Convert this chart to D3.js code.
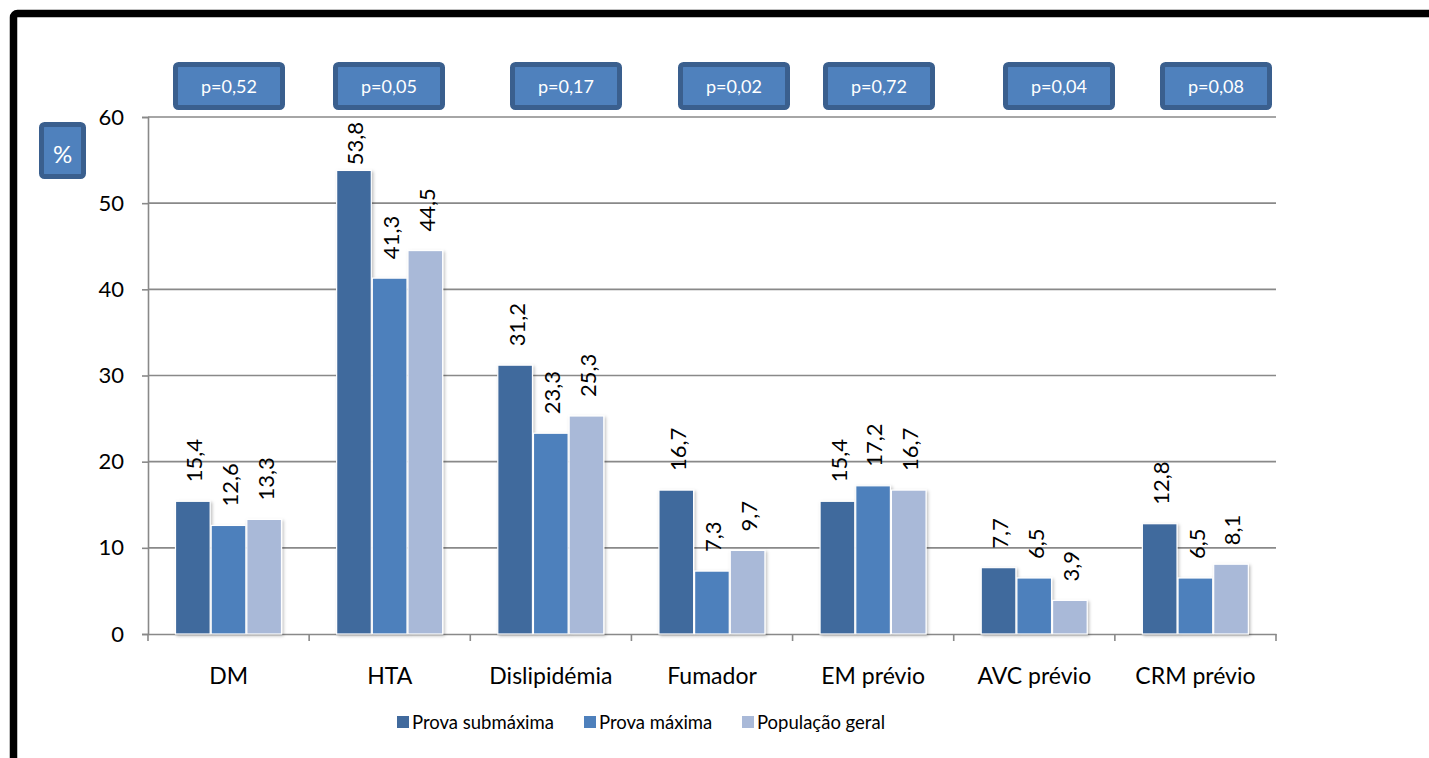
<!DOCTYPE html>
<html>
<head>
<meta charset="utf-8">
<script src="https://cdn.jsdelivr.net/npm/d3@7"></script>
<style>
  html, body { margin: 0; padding: 0; background: #fff; }
  svg { display: block; font-family: Lato, "Open Sans", sans-serif; }
</style>
</head>
<body>
<svg id="chart" width="1429" height="758"></svg>
<script>
// Risk factor categories
const categories = ["DM", "HTA", "Dislipidémia", "Fumador", "EM prévio", "AVC prévio", "CRM prévio"];
// Series
const seriesNames = ["Prova submáxima", "Prova máxima", "População geral"];
const provaSubmaxima = [15.4, 53.8, 31.2, 16.7, 15.4, 7.7, 12.8];
const provaMaxima = [12.6, 41.3, 23.3, 7.3, 17.2, 6.5, 6.5];
const populacaoGeral = [13.3, 44.5, 25.3, 9.7, 16.7, 3.9, 8.1];
// p-values per category
const pValues = ["p=0,52", "p=0,05", "p=0,17", "p=0,02", "p=0,72", "p=0,04", "p=0,08"];
// y-axis ticks
const yTicks = [0, 10, 20, 30, 40, 50, 60];

const colors = ["#416a9d", "#4e80bc", "#a9b9d8"];
const seriesValues = [provaSubmaxima, provaMaxima, populacaoGeral];
const FONT = "Lato, 'Open Sans', sans-serif";

const svg = d3.select("#chart");

// drop shadow for bars
const defs = svg.append("defs");
const f = defs.append("filter").attr("id", "shadow").attr("x", "-20%").attr("y", "-20%").attr("width", "140%").attr("height", "140%");
f.append("feDropShadow").attr("dx", 1.5).attr("dy", 1.5).attr("stdDeviation", 1.5).attr("flood-color", "#000").attr("flood-opacity", 0.25);

// outer frame
svg.append("rect").attr("x", 13.5).attr("y", 13.5).attr("width", 1440).attr("height", 800)
  .attr("rx", 4).attr("fill", "none").attr("stroke", "#000").attr("stroke-width", 7.5);

const plotLeft = 148, plotRight = 1276, plotTop = 117, plotBottom = 634;

const x0 = d3.scaleBand().domain(categories).range([plotLeft, plotRight]).padding(0);
const x1 = d3.scaleBand().domain(d3.range(3)).range([27, 134]).padding(0);
const y = d3.scaleLinear().domain([0, 60]).range([plotBottom, plotTop]);

// gridlines
svg.append("g").selectAll("line").data(yTicks.filter(d => d > 0)).join("line")
  .attr("x1", plotLeft).attr("x2", plotRight)
  .attr("y1", d => y(d)).attr("y2", d => y(d))
  .attr("stroke", "#898989").attr("stroke-width", 1.6);

// y axis
const yAxis = svg.append("g").attr("transform", `translate(${plotLeft},0)`)
  .call(d3.axisLeft(y).tickValues(yTicks).tickSize(6).tickPadding(18).tickFormat(d3.format("d")));
yAxis.select(".domain").attr("stroke", "#898989").attr("stroke-width", 1.6);
yAxis.selectAll(".tick line").attr("stroke", "#898989").attr("stroke-width", 1.6);
yAxis.selectAll(".tick text").attr("font-size", 22).attr("fill", "#000").attr("font-family", FONT);

// x axis
const xAxis = svg.append("g").attr("transform", `translate(0,${plotBottom})`)
  .call(d3.axisBottom(x0).tickSize(0).tickPadding(34));
xAxis.select(".domain").attr("stroke", "#898989").attr("stroke-width", 1.6);
xAxis.selectAll(".tick text").attr("font-size", 23).attr("fill", "#000").attr("font-family", FONT);
// category boundary ticks
svg.append("g").selectAll("line").data(categories.map(c => x0(c)).concat([plotRight])).join("line")
  .attr("x1", d => d).attr("x2", d => d).attr("y1", plotBottom).attr("y2", plotBottom + 7)
  .attr("stroke", "#898989").attr("stroke-width", 1.6);

// bars and rotated value labels
const groups = svg.append("g").selectAll("g").data(categories).join("g")
  .attr("transform", d => `translate(${x0(d)},0)`);

const labelTopLimit = 122;
groups.each(function(cat, ci) {
  const g = d3.select(this);
  seriesValues.forEach((vals, si) => {
    const v = vals[ci];
    g.append("rect")
      .attr("x", x1(si) + 0.5).attr("width", x1.bandwidth() - 1)
      .attr("y", y(v)).attr("height", y(0) - y(v))
      .attr("fill", colors[si]).attr("stroke", "#fff").attr("stroke-width", 1.2)
      .attr("filter", "url(#shadow)");
    const cx = x1(si) + x1.bandwidth() / 2 + 1.5;
    const t = g.append("text")
      .attr("font-size", 22).attr("fill", "#000").attr("dy", "0.36em")
      .text(d3.format(".1f")(v).replace(".", ","));
    const len = t.node().getComputedTextLength();
    // keep labels inside the plot area at the top
    const start = Math.max(y(v) - 19, labelTopLimit + len);
    t.attr("transform", `translate(${cx},${start}) rotate(-90)`);
  });
});

// p-value boxes
const pBoxX = [173, 333, 510, 678, 823, 1003, 1160];
svg.append("g").selectAll("g").data(pValues).join("g")
  .attr("transform", (d, i) => `translate(${pBoxX[i]},62)`)
  .each(function(d) {
    const g = d3.select(this);
    g.append("rect").attr("x", 2.5).attr("y", 2.5).attr("width", 107).attr("height", 43).attr("rx", 3)
      .attr("fill", "#4f81bd").attr("stroke", "#3a5f8e").attr("stroke-width", 5);
    g.append("text").attr("x", 56).attr("y", 31).attr("text-anchor", "middle")
      .attr("font-size", 18).attr("fill", "#fff").text(d);
  });

// y-axis unit box
const unit = svg.append("g").attr("transform", "translate(39,122)");
unit.append("rect").attr("x", 2.5).attr("y", 2.5).attr("width", 42).attr("height", 52).attr("rx", 3)
  .attr("fill", "#4f81bd").attr("stroke", "#3a5f8e").attr("stroke-width", 5);
unit.append("text").attr("x", 23.5).attr("y", 41).attr("text-anchor", "middle")
  .attr("font-size", 24).attr("fill", "#fff").text("%");

// legend
const legendX = [397, 584, 742];
const lg = svg.append("g").selectAll("g").data(seriesNames).join("g")
  .attr("transform", (d, i) => `translate(${legendX[i]},716)`);
lg.append("rect").attr("width", 12).attr("height", 12).attr("fill", (d, i) => colors[i]);
lg.append("text").attr("x", 15).attr("y", 13).attr("font-size", 18.5).attr("fill", "#000").text(d => d);
</script>
</body>
</html>
